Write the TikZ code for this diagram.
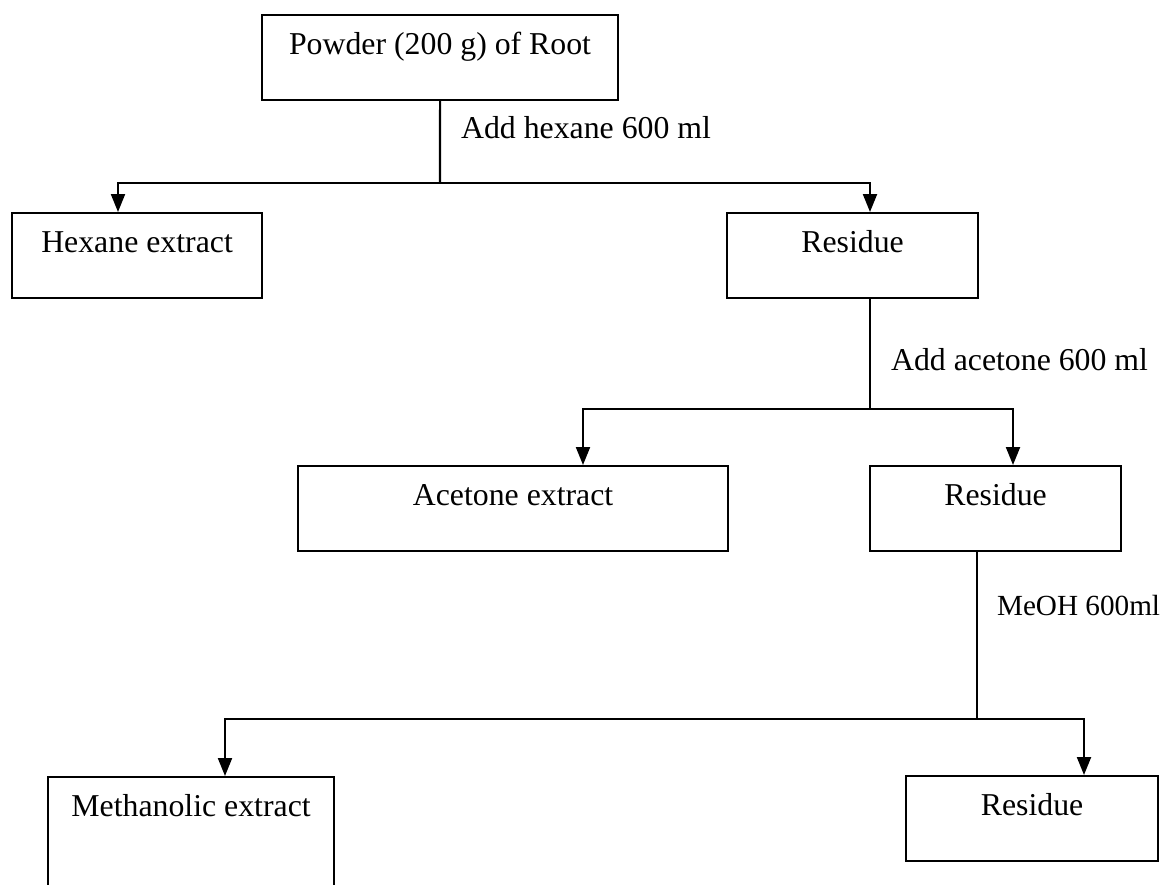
\documentclass[tikz,border=0pt]{standalone}
\usepackage{fontspec}
\setmainfont{Liberation Serif}
\usetikzlibrary{arrows.meta,positioning}

\begin{document}
\begin{tikzpicture}[x=0.5pt,y=-0.5pt,line width=1.05pt,
 b/.style={draw,anchor=north west,inner xsep=0pt,inner ysep=0pt,text height=19.75pt,text depth=22.75pt,font=\fontsize{15.9}{19}\selectfont},
 l/.style={anchor=base west,inner sep=0pt,font=\fontsize{15.9}{19}\selectfont},
 >={Triangle[length=9pt,width=7pt]}]
\useasboundingbox (0,0) rectangle (1162,884);
\node[b,minimum width=178pt] (root) at (261,14) {Powder (200 g) of Root};
\node[b,minimum width=125pt] (hex) at (11,212) {Hexane extract};
\node[b,minimum width=125.5pt] (res1) at (726,212) {Residue};
\node[b,minimum width=215pt] (acet) at (297,465) {Acetone extract};
\node[b,minimum width=125.5pt] (res2) at (869,465) {Residue};
\node[b,minimum width=143pt,text depth=40pt] (meth) at (47,776) {Methanolic extract};
\node[b,minimum width=126pt] (res3) at (905,775) {Residue};
% solvent labels
\node[l] (lhex) at (460,138) {Add hexane 600 ml};
\node[l] (lace) at (890,370) {Add acetone 600 ml};
\node[l,font=\fontsize{14.6}{17}\selectfont] (lme) at (996,615) {MeOH 600ml};
% split points
\coordinate (s1) at (440,183);
\coordinate (h1) at (118,183);
\coordinate (r1) at (870,183);
\coordinate (s2) at (870,409);
\coordinate (a2) at (583,409);
\coordinate (r2) at (1013,409);
\coordinate (s3) at (977,719);
\coordinate (m3) at (225,719);
\coordinate (r3) at (1084,719);
\draw (root.south) -- (s1);
\draw[->] (s1) -- (h1) -- (h1 |- hex.north);
\draw[->] (s1) -- (r1) -- (r1 |- res1.north);
\draw (r1 |- res1.south) -- (s2);
\draw[->] (s2) -- (a2) -- (a2 |- acet.north);
\draw[->] (s2) -- (r2) -- (r2 |- res2.north);
\draw (s3 |- res2.south) -- (s3);
\draw[->] (s3) -- (m3) -- (m3 |- meth.north);
\draw[->] (s3) -- (r3) -- (r3 |- res3.north);
\end{tikzpicture}
\end{document}
